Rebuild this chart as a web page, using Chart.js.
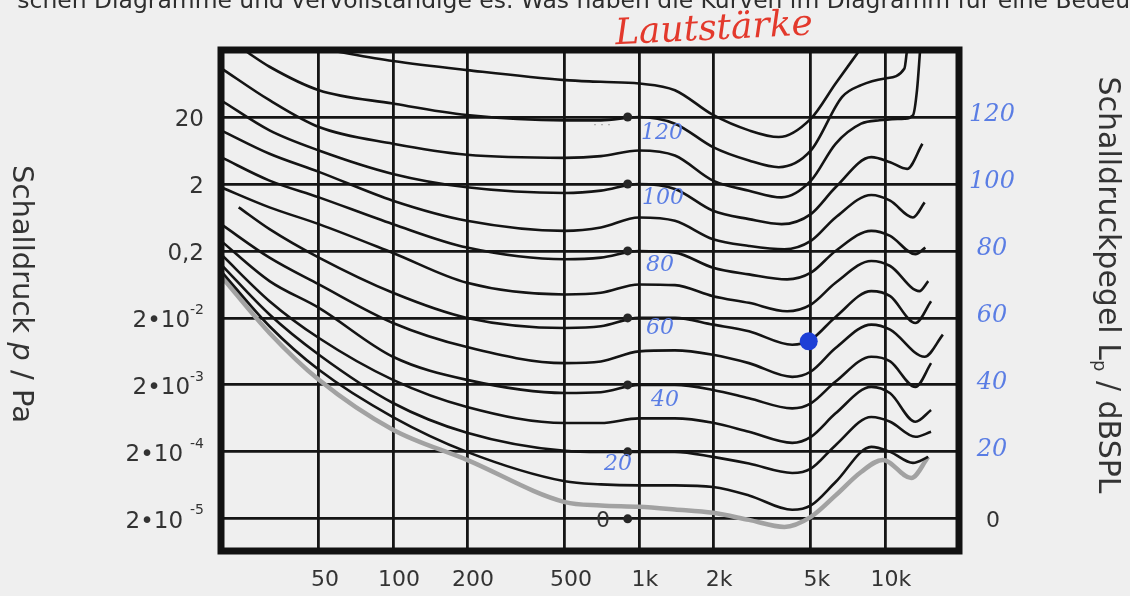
<!DOCTYPE html>
<html><head><meta charset="utf-8">
<script src="https://cdn.jsdelivr.net/npm/chart.js@4.4.1/dist/chart.umd.min.js"></script>
<style>html,body{margin:0;padding:0;background:#efefef;overflow:hidden}canvas{display:block}</style>
</head><body>
<canvas id="c" width="1130" height="596"></canvas>
<script>
// ---------- axes / ticks ----------
const xGridHz = [50, 100, 200, 500, 1000, 2000, 5000, 10000];
const xTickLabels = ['50', '100', '200', '500', '1k', '2k', '5k', '10k'];
const yGridDb = [0, 20, 40, 60, 80, 100, 120];
const leftTickBase = ['2•10', '2•10', '2•10', '2•10', '0,2', '2', '20'];
const leftTickExp = ['-5', '-4', '-3', '-2', '', '', ''];
const rightTickLabels = ['0', '20', '40', '60', '80', '100', '120'];
const dotLabels = ['0', '20', '40', '60', '80', '100', '120'];

// reference dots at 1 kHz and the blue mark
const refDotHz = [900, 900, 900, 900, 900, 900, 900];
const refDotDb = [0, 20, 40, 60, 80, 100, 120];
const markHz = [4900];
const markDb = [53];

// ---------- curves (frequency in Hz, level in dB SPL) ----------
const thrHz = [20, 31.5, 50, 100, 200, 500, 700, 1000, 1400, 2000, 2800, 3900, 5000, 6300, 8000, 9800, 12800, 15000];
const thrDb = [72.5, 55.5, 41.5, 26.6, 17.6, 5, 4, 3.6, 2.8, 1.8, -0.3, -2.4, 0.6, 7, 14, 17.6, 12.2, 18.5];

const p10Hz = [20, 31.5, 50, 100, 200, 500, 700, 1000, 1400, 2000, 2800, 4200, 5000, 6300, 8800, 10500, 13000, 15000];
const p10Db = [74, 57.5, 44.5, 30.4, 20, 11.2, 10.3, 10, 10, 9.5, 7, 2.7, 4, 11, 21.5, 20, 16.7, 18.5];

const p20Hz = [20, 31.5, 50, 100, 200, 500, 700, 1000, 1400, 2000, 2800, 4200, 5000, 6300, 8800, 10500, 13300, 15400];
const p20Db = [76, 61, 49, 34.6, 25.7, 20.3, 20, 20, 20, 18.5, 16.5, 13.7, 15, 22, 30.4, 29, 24.5, 26];

const p30Hz = [20, 31.5, 50, 100, 200, 500, 700, 1000, 1400, 2000, 2800, 4200, 5000, 6300, 8800, 10500, 13300, 15400];
const p30Db = [79, 65, 54, 41.5, 33.4, 28.6, 28.6, 30, 30, 28.7, 26, 22.7, 24.5, 31.5, 39.4, 37.5, 29, 32.5];

const p40Hz = [20, 31.5, 50, 100, 200, 500, 700, 1000, 1400, 2000, 2800, 4200, 5000, 6300, 8800, 10500, 13300, 15400];
const p40Db = [83, 71, 63, 48.4, 41.5, 37.6, 37.8, 40, 40, 38.5, 36, 33, 34.5, 41, 48.4, 47, 39.4, 46.5];

const p50Hz = [20, 31.5, 50, 100, 200, 500, 700, 1000, 1400, 2000, 2800, 4200, 5000, 6300, 8800, 10500, 14500, 17200];
const p50Db = [88, 78, 70, 58.5, 51.3, 46.5, 47, 50, 50.3, 49, 46.5, 42.4, 44, 51, 58, 56.5, 48.4, 55];

const p60Hz = [23.6, 31.5, 50, 100, 200, 500, 700, 1000, 1400, 2000, 2800, 4200, 5000, 6300, 8800, 10500, 13300, 15400];
const p60Db = [93, 86.5, 78, 67.5, 60, 57, 57.5, 60, 60, 58, 56, 52, 53.5, 60.3, 68, 66.5, 58.5, 65];

const p70Hz = [20, 31.5, 50, 100, 200, 500, 700, 1000, 1400, 2000, 2800, 4000, 5000, 6300, 8800, 10500, 13800, 15000];
const p70Db = [99, 93, 88, 79.4, 70.5, 67, 67.5, 70, 69.8, 66.5, 64.5, 62, 64, 70.5, 77, 75.5, 68, 71];

const p80Hz = [20, 31.5, 50, 100, 200, 500, 700, 1000, 1400, 2000, 2800, 4000, 5000, 6300, 8800, 10500, 13300, 14600];
const p80Db = [108, 101, 96, 88, 81, 77.5, 78, 80, 79.5, 75, 73, 71.5, 73.5, 80, 86, 84.5, 79, 81];

const p90Hz = [20, 31.5, 50, 100, 200, 500, 700, 1000, 1400, 2000, 2800, 3900, 5000, 6300, 8800, 10500, 13000, 14500];
const p90Db = [116, 109, 103.6, 95, 89, 86, 87, 90, 89, 83.5, 81.5, 80.5, 83, 90, 96.7, 95, 90, 94.5];

const p100Hz = [20, 31.5, 50, 100, 200, 500, 700, 1000, 1400, 2000, 2800, 3800, 5000, 6300, 8800, 10500, 12300, 14200];
const p100Db = [125, 116, 110, 103, 99, 97.3, 98, 100, 98.5, 92, 89.5, 88, 91, 99, 108, 106.5, 104.5, 112];

const p110Hz = [20, 31.5, 50, 100, 200, 500, 700, 1000, 1400, 2000, 2800, 3800, 5000, 6300, 8000, 9500, 12000, 13000, 13500, 13900];
const p110Db = [134.6, 125, 117, 112, 108.7, 107.8, 108.3, 110, 108.5, 101, 98, 96, 101, 112, 118, 119, 119.5, 120.5, 128, 140];

const p120Hz = [24.8, 31.5, 50, 100, 200, 500, 700, 1000, 1400, 2000, 2800, 3700, 5000, 6700, 8000, 10000, 12000, 12300];
const p120Db = [140, 135, 128, 124, 120.6, 119, 119, 120, 118, 111, 107, 105, 110, 126, 129.5, 131.5, 134.5, 140];

const p130Hz = [54.3, 100, 200, 500, 700, 1000, 1400, 2000, 2800, 3700, 5000, 6300, 7900];
const p130Db = [140, 136.7, 134, 131, 130.5, 130, 128, 120.6, 116, 114, 119.5, 130, 140];

// ---------- build datasets ----------
const pts = (hz, db) => hz.map((f, i) => ({ x: f, y: db[i] }));
const blackCurves = [
  [p10Hz, p10Db], [p20Hz, p20Db], [p30Hz, p30Db], [p40Hz, p40Db], [p50Hz, p50Db],
  [p60Hz, p60Db], [p70Hz, p70Db], [p80Hz, p80Db], [p90Hz, p90Db], [p100Hz, p100Db],
  [p110Hz, p110Db], [p120Hz, p120Db], [p130Hz, p130Db]
];
const datasets = [];
datasets.push({ data: pts(markHz, markDb), showLine: false, pointRadius: 9, pointBackgroundColor: '#1d3fd6', pointBorderWidth: 0 });
datasets.push({ data: pts(refDotHz, refDotDb), showLine: false, pointRadius: 4.5, pointBackgroundColor: '#262626', pointBorderWidth: 0 });
blackCurves.forEach(([hz, db]) => datasets.push({
  data: pts(hz, db), borderColor: '#141414', borderWidth: 2.6, pointRadius: 0,
  cubicInterpolationMode: 'monotone', fill: false
}));
datasets.push({ data: pts(thrHz, thrDb), borderColor: '#a2a2a2', borderWidth: 4.5, pointRadius: 0, cubicInterpolationMode: 'monotone', fill: false });

const SANS = '"DejaVu Sans", "Liberation Sans", sans-serif';
const TXT = '#333333';
const BLUE = '#5a7de4';

const decor = {
  id: 'decor',
  beforeDraw(chart) {
    const ctx = chart.ctx;
    ctx.save(); ctx.fillStyle = '#efefef'; ctx.fillRect(0, 0, chart.width, chart.height); ctx.restore();
  },
  afterDraw(chart) {
    const { ctx, chartArea: a, scales: { x, y } } = chart;
    ctx.save();
    // frame
    ctx.strokeStyle = '#121212'; ctx.lineWidth = 7;
    ctx.strokeRect(a.left, a.top, a.right - a.left, a.bottom - a.top);

    // left tick labels with superscripts
    ctx.fillStyle = TXT; ctx.textBaseline = 'middle';
    yGridDb.forEach((v, i) => {
      const py = y.getPixelForValue(v);
      let right = 204;
      const exp = leftTickExp[i];
      if (exp) {
        ctx.font = '14px ' + SANS; ctx.textAlign = 'right';
        ctx.fillText(exp, right, py - 8);
        right -= ctx.measureText(exp).width + (i < 2 ? 7 : 0);
      }
      ctx.font = '23px ' + SANS; ctx.textAlign = 'right';
      ctx.fillText(leftTickBase[i], right, py + 3);
    });

    // x tick labels
    ctx.font = '22px ' + SANS; ctx.textAlign = 'center'; ctx.fillStyle = TXT;
    xGridHz.forEach((f, i) => ctx.fillText(xTickLabels[i], x.getPixelForValue(f) + 6, 580));

    // right tick labels (handwritten blue, printed 0)
    yGridDb.forEach((v, i) => {
      const py = y.getPixelForValue(v);
      if (rightTickLabels[i] === '0') {
        ctx.font = '22px ' + SANS; ctx.fillStyle = TXT; ctx.fillText('0', 993, py + 2);
      } else {
        ctx.font = 'italic 24px "DejaVu Serif", serif'; ctx.fillStyle = BLUE;
        ctx.fillText(rightTickLabels[i], 992, py - 2);
      }
    });

    // labels next to the 1 kHz dots
    const dotLabelPos = [[603, 0], [618, 12], [665, 15], [660, 10], [660, 14], [663, 14], [662, 16]];
    refDotDb.forEach((v, i) => {
      const py = y.getPixelForValue(v);
      if (dotLabels[i] === '0') {
        ctx.font = '22px ' + SANS; ctx.fillStyle = TXT; ctx.fillText('0', dotLabelPos[i][0], py + 2);
      } else {
        ctx.font = 'italic 22px "DejaVu Serif", serif'; ctx.fillStyle = BLUE;
        ctx.fillText(dotLabels[i], dotLabelPos[i][0], py + dotLabelPos[i][1]);
      }
    });
    ctx.font = '11px ' + SANS; ctx.fillStyle = '#8a8a8a';
    ctx.fillText('· · ·', 602, y.getPixelForValue(120) + 8);

    // axis titles
    const drawRot = (cx, cy, parts) => {
      ctx.save(); ctx.translate(cx, cy); ctx.rotate(Math.PI / 2);
      ctx.textAlign = 'left'; ctx.textBaseline = 'middle'; ctx.fillStyle = TXT;
      let total = 0;
      parts.forEach(p => { ctx.font = p.font; total += ctx.measureText(p.t).width; });
      let px = -total / 2;
      parts.forEach(p => { ctx.font = p.font; ctx.fillText(p.t, px, p.dy || 0); px += ctx.measureText(p.t).width; });
      ctx.restore();
    };
    drawRot(21, 294, [
      { t: 'Schalldruck ', font: '29px ' + SANS },
      { t: 'p', font: 'italic 29px ' + SANS },
      { t: ' / Pa', font: '29px ' + SANS }
    ]);
    drawRot(1107, 285, [
      { t: 'Schalldruckpegel L', font: '30px ' + SANS },
      { t: 'p', font: '18px ' + SANS, dy: 8 },
      { t: ' / dBSPL', font: '30px ' + SANS }
    ]);

    // red handwritten note
    ctx.save(); ctx.translate(714, 30); ctx.rotate(-0.05);
    ctx.font = 'italic 36px "DejaVu Serif", serif'; ctx.fillStyle = '#e3392c';
    ctx.textAlign = 'center'; ctx.textBaseline = 'middle';
    ctx.fillText('Lautstärke', 0, 0);
    ctx.restore();

    // cut-off line of text at the very top
    const pre = 'schen ';
    const main = 'Diagramme und vervollständige es. Was haben die Kurven im Diagramm für eine Bedeu';
    ctx.font = '100px ' + SANS;
    const size = 100 * (1130 - 94) / ctx.measureText(main).width;
    ctx.font = size.toFixed(2) + 'px ' + SANS; ctx.fillStyle = '#2e2e2e';
    ctx.textBaseline = 'alphabetic';
    ctx.textAlign = 'right'; ctx.fillText(pre, 94, 8);
    ctx.textAlign = 'left'; ctx.fillText(main + 'tung', 94, 8);
    ctx.restore();
  }
};

new Chart(document.getElementById('c'), {
  type: 'line',
  data: { datasets },
  options: {
    responsive: false, animation: false, devicePixelRatio: 1, events: [],
    layout: { padding: { left: 221, right: 171, top: 50, bottom: 45 } },
    plugins: { legend: { display: false }, tooltip: { enabled: false } },
    scales: {
      x: {
        type: 'logarithmic', min: 20, max: 20000,
        afterBuildTicks: s => { s.ticks = xGridHz.map(v => ({ value: v })); },
        afterFit: s => { s.height = 0; },
        ticks: { display: false },
        grid: { color: '#151515', lineWidth: 2.8, drawTicks: false },
        border: { display: false }
      },
      y: {
        type: 'linear', min: -9.6, max: 140,
        afterBuildTicks: s => { s.ticks = yGridDb.map(v => ({ value: v })); },
        afterFit: s => { s.width = 0; },
        ticks: { display: false },
        grid: { color: '#151515', lineWidth: 2.8, drawTicks: false },
        border: { display: false }
      }
    }
  },
  plugins: [decor]
});
</script>
</body></html>
